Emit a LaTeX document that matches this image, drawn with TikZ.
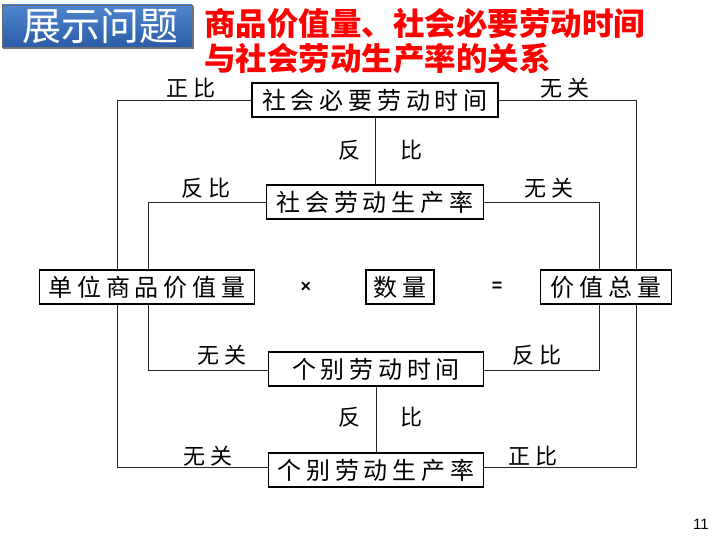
\documentclass[tikz,border=0pt]{standalone}
\usepackage{fontspec}
\newfontfamily\cjk{Noto Sans CJK SC}
\newfontfamily\cjkls[LetterSpace=20]{Noto Sans CJK SC}
\setmainfont{Liberation Sans}
\definecolor{tbtop}{HTML}{4F86CF}
\definecolor{tbbot}{HTML}{2B5CA6}
\begin{document}
\begin{tikzpicture}[x=1pt,y=-1pt,
  box/.style={draw=black,line width=1.3pt,fill=white,inner sep=0pt,minimum height=34pt,font=\cjkls\fontsize{24}{24}\selectfont},
  lbl/.style={font=\cjkls\fontsize{22}{22}\selectfont,inner sep=0pt},
  conn/.style={draw=black!85,line width=0.9pt}]
\useasboundingbox (0,0) rectangle (720,540);
% title box
\shade[top color=tbtop,bottom color=tbbot,draw=black!60,line width=0.6pt] (2,5) rectangle (192,47);
\draw[black!55,line width=1.5pt] (3,48) -- (193,48) -- (193,6);
\node[text=white,font=\cjk\fontsize{39}{39}\selectfont,inner sep=0pt] (ttl) at (100,26) {展示问题};
\node[text=red,font=\cjk\bfseries\fontsize{31.5}{31.5}\selectfont,anchor=west,inner sep=0pt] (t1) at (204,24) {商品价值量、社会必要劳动时间};
\node[text=red,font=\cjk\bfseries\fontsize{31.5}{31.5}\selectfont,anchor=west,inner sep=0pt] (t2) at (204,59) {与社会劳动生产率的关系};
% boxes
\node[box,minimum width=246pt] (snt) at (375,100) {社会必要劳动时间};
\node[box,minimum width=217pt] (snp) at (375,202) {社会劳动生产率};
\node[box,minimum width=215pt] (dw) at (147,287) {单位商品价值量};
\node[box,minimum width=68pt] (sl) at (400,287) {数量};
\node[box,minimum width=131pt] (jz) at (606,287) {价值总量};
\node[box,minimum width=215pt] (gt) at (376,369) {个别劳动时间};
\node[box,minimum width=215pt] (gp) at (376,470) {个别劳动生产率};
% connectors
\draw[conn] (snt.west) -- (117,100) -- (117,287 |- dw.north);
\draw[conn] (117,287 |- dw.south) -- (117,467) -- (gp.west |- 0,467);
\draw[conn] (snp.west) -- (148,202) -- (148,287 |- dw.north);
\draw[conn] (148,287 |- dw.south) -- (148,370) -- (gt.west |- 0,370);
\draw[conn] (snt.east) -- (636,100) -- (636,287 |- jz.north);
\draw[conn] (636,287 |- jz.south) -- (636,467) -- (gp.east |- 0,467);
\draw[conn] (snp.east) -- (599,202) -- (599,287 |- jz.north);
\draw[conn] (599,287 |- jz.south) -- (599,370) -- (gt.east |- 0,370);
\draw[conn] (snt.south) -- (snp.north);
\draw[conn] (gt.south) -- (gp.north);
% labels
\node[lbl] (l1) at (191,88) {正比};
\node[lbl] (l2) at (565,88) {无关};
\node[lbl] (l3) at (349,150) {反};
\node[lbl] (l4) at (411,150) {比};
\node[lbl] (l5) at (206,188) {反比};
\node[lbl] (l6) at (549,188) {无关};
\node[font=\bfseries\fontsize{18}{18}\selectfont,inner sep=0pt] (op1) at (306,287) {×};
\node[font=\bfseries\fontsize{18}{18}\selectfont,inner sep=0pt] (op2) at (497,287) {=};
\node[lbl] (l7) at (222,355) {无关};
\node[lbl] (l8) at (537,355) {反比};
\node[lbl] (l9) at (349,417) {反};
\node[lbl] (l10) at (411,417) {比};
\node[lbl] (l11) at (208,456) {无关};
\node[lbl] (l12) at (533,456) {正比};
\node[font=\fontsize{15}{15}\selectfont,inner sep=0pt] (pg) at (701,524) {11};
\end{tikzpicture}
\end{document}
